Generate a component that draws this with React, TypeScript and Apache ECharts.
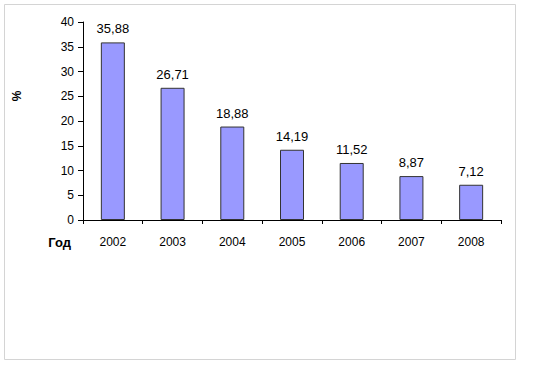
import React, { useEffect, useRef } from "react";
import * as echarts from "echarts";

const categories = ["2002", "2003", "2004", "2005", "2006", "2007", "2008"];
const values = [35.88, 26.71, 18.88, 14.19, 11.52, 8.87, 7.12];
const yTicks = { min: 0, max: 40, interval: 5 };
const yName = "%";
const xName = "Год";

export default function App() {
  const ref = useRef<HTMLDivElement>(null);
  useEffect(() => {
    if (!ref.current) return;
    const chart = echarts.init(ref.current, undefined, { renderer: "svg" });
    const font = "'Liberation Sans', Arial, sans-serif";
    chart.setOption({
      animation: false,
      backgroundColor: "#ffffff",
      textStyle: { fontFamily: font },
      grid: { left: 83, right: 40, top: 22, bottom: 148 },
      graphic: [
        {
          type: "rect",
          shape: { x: 4.5, y: 4.5, width: 511, height: 355 },
          style: { fill: "none", stroke: "#d4d4d4", lineWidth: 1 },
          silent: true,
        },
        {
          type: "text",
          x: 17,
          y: 96,
          rotation: Math.PI / 2,
          style: { text: yName, font: `bold 12px ${font}`, fill: "#000", align: "center", verticalAlign: "middle" },
        },
        {
          type: "text",
          x: 71,
          y: 242,
          style: { text: xName, font: `bold 13px ${font}`, fill: "#000", align: "right", verticalAlign: "middle" },
        },
      ],
      xAxis: {
        type: "category",
        data: categories,
        axisLine: { show: true, lineStyle: { color: "#000", width: 1 } },
        axisTick: { show: true, length: 4, lineStyle: { color: "#000" } },
        axisLabel: { color: "#000", fontSize: 12, margin: 16, fontFamily: font },
        splitLine: { show: false },
      },
      yAxis: {
        type: "value",
        min: yTicks.min,
        max: yTicks.max,
        interval: yTicks.interval,
        axisLine: { show: true, lineStyle: { color: "#000", width: 1 } },
        axisTick: { show: true, length: 5, lineStyle: { color: "#000" } },
        axisLabel: { color: "#000", fontSize: 12, margin: 9, fontFamily: font },
        splitLine: { show: false },
      },
      series: [
        {
          type: "bar",
          data: values,
          barWidth: 24,
          itemStyle: { color: "#9999ff", borderColor: "#333333", borderWidth: 1 },
          label: {
            show: true,
            position: "top",
            distance: 7,
            color: "#000",
            fontSize: 13,
            fontFamily: font,
            formatter: (p: any) => p.value.toFixed(2).replace(".", ","),
          },
        },
      ],
    });
    return () => chart.dispose();
  }, []);
  return <div ref={ref} style={{ position: "fixed", left: 0, top: 0, width: 541, height: 368 }} />;
}
